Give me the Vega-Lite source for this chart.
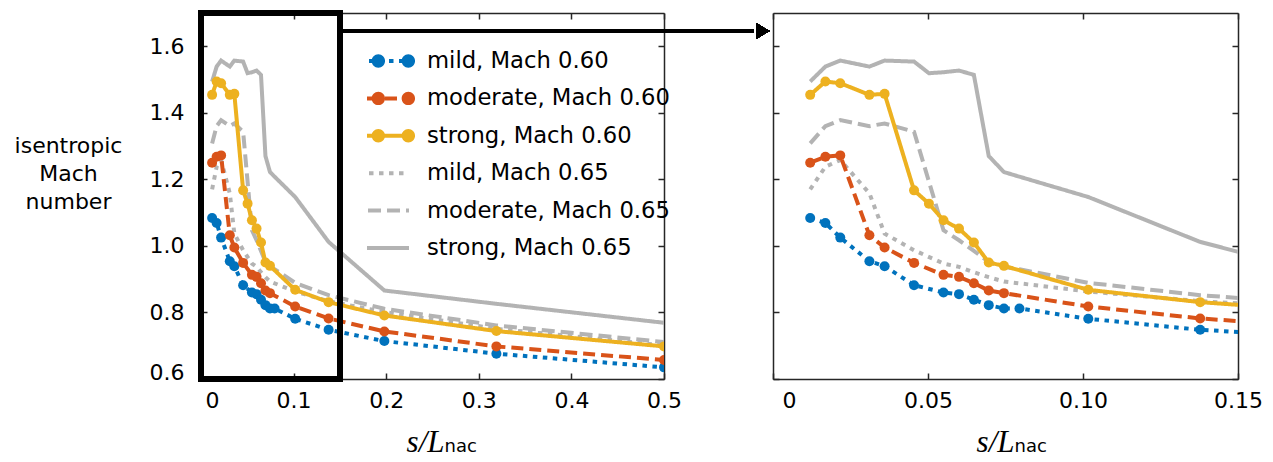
{
  "$schema": "https://vega.github.io/schema/vega-lite/v6.json",
  "padding": {"left": 14, "top": 10, "right": 5, "bottom": 5},
  "bounds": "flush",
  "spacing": 109,
  "config": {
    "font": "DejaVu Sans",
    "view": {"stroke": null},
    "axis": {
      "labelFont": "DejaVu Sans", "labelFontSize": 22, "labelColor": "#000000",
      "domainColor": "#262626", "domainWidth": 1.5,
      "tickColor": "#262626", "tickWidth": 1.5, "tickSize": -6,
      "grid": false, "titleColor": "#000000", "labelFlush": false
    }
  },
  "datasets": {
    "d": [
      {"series": "mild, Mach 0.65", "s": 0.012, "M": 1.170},
      {"series": "mild, Mach 0.65", "s": 0.0169, "M": 1.238},
      {"series": "mild, Mach 0.65", "s": 0.0217, "M": 1.258},
      {"series": "mild, Mach 0.65", "s": 0.0311, "M": 1.158},
      {"series": "mild, Mach 0.65", "s": 0.036, "M": 1.037},
      {"series": "mild, Mach 0.65", "s": 0.0455, "M": 0.987},
      {"series": "mild, Mach 0.65", "s": 0.055, "M": 0.947},
      {"series": "mild, Mach 0.65", "s": 0.06, "M": 0.937},
      {"series": "mild, Mach 0.65", "s": 0.0648, "M": 0.921},
      {"series": "mild, Mach 0.65", "s": 0.0696, "M": 0.906},
      {"series": "mild, Mach 0.65", "s": 0.0745, "M": 0.893},
      {"series": "mild, Mach 0.65", "s": 0.1017, "M": 0.863},
      {"series": "mild, Mach 0.65", "s": 0.1378, "M": 0.834},
      {"series": "mild, Mach 0.65", "s": 0.198, "M": 0.801},
      {"series": "mild, Mach 0.65", "s": 0.319, "M": 0.751},
      {"series": "mild, Mach 0.65", "s": 0.5, "M": 0.701},

      {"series": "moderate, Mach 0.65", "s": 0.012, "M": 1.308},
      {"series": "moderate, Mach 0.65", "s": 0.0169, "M": 1.360},
      {"series": "moderate, Mach 0.65", "s": 0.0217, "M": 1.378},
      {"series": "moderate, Mach 0.65", "s": 0.0311, "M": 1.360},
      {"series": "moderate, Mach 0.65", "s": 0.036, "M": 1.368},
      {"series": "moderate, Mach 0.65", "s": 0.0455, "M": 1.343},
      {"series": "moderate, Mach 0.65", "s": 0.055, "M": 1.047},
      {"series": "moderate, Mach 0.65", "s": 0.06, "M": 1.017},
      {"series": "moderate, Mach 0.65", "s": 0.0648, "M": 0.985},
      {"series": "moderate, Mach 0.65", "s": 0.0696, "M": 0.952},
      {"series": "moderate, Mach 0.65", "s": 0.0745, "M": 0.937},
      {"series": "moderate, Mach 0.65", "s": 0.0795, "M": 0.930},
      {"series": "moderate, Mach 0.65", "s": 0.1017, "M": 0.889},
      {"series": "moderate, Mach 0.65", "s": 0.1378, "M": 0.852},
      {"series": "moderate, Mach 0.65", "s": 0.198, "M": 0.811},
      {"series": "moderate, Mach 0.65", "s": 0.319, "M": 0.761},
      {"series": "moderate, Mach 0.65", "s": 0.5, "M": 0.711},

      {"series": "strong, Mach 0.65", "s": 0.012, "M": 1.494},
      {"series": "strong, Mach 0.65", "s": 0.0169, "M": 1.539},
      {"series": "strong, Mach 0.65", "s": 0.0217, "M": 1.557},
      {"series": "strong, Mach 0.65", "s": 0.0311, "M": 1.539},
      {"series": "strong, Mach 0.65", "s": 0.036, "M": 1.557},
      {"series": "strong, Mach 0.65", "s": 0.0455, "M": 1.554},
      {"series": "strong, Mach 0.65", "s": 0.0503, "M": 1.519},
      {"series": "strong, Mach 0.65", "s": 0.055, "M": 1.522},
      {"series": "strong, Mach 0.65", "s": 0.06, "M": 1.527},
      {"series": "strong, Mach 0.65", "s": 0.0648, "M": 1.514},
      {"series": "strong, Mach 0.65", "s": 0.0696, "M": 1.270},
      {"series": "strong, Mach 0.65", "s": 0.0745, "M": 1.222},
      {"series": "strong, Mach 0.65", "s": 0.0795, "M": 1.208},
      {"series": "strong, Mach 0.65", "s": 0.1017, "M": 1.147},
      {"series": "strong, Mach 0.65", "s": 0.1378, "M": 1.012},
      {"series": "strong, Mach 0.65", "s": 0.198, "M": 0.866},
      {"series": "strong, Mach 0.65", "s": 0.319, "M": 0.826},
      {"series": "strong, Mach 0.65", "s": 0.5, "M": 0.769},

      {"series": "mild, Mach 0.60", "s": 0.012, "M": 1.084},
      {"series": "mild, Mach 0.60", "s": 0.0169, "M": 1.069},
      {"series": "mild, Mach 0.60", "s": 0.0217, "M": 1.025},
      {"series": "mild, Mach 0.60", "s": 0.0311, "M": 0.954},
      {"series": "mild, Mach 0.60", "s": 0.036, "M": 0.939},
      {"series": "mild, Mach 0.60", "s": 0.0455, "M": 0.882},
      {"series": "mild, Mach 0.60", "s": 0.055, "M": 0.860},
      {"series": "mild, Mach 0.60", "s": 0.06, "M": 0.855},
      {"series": "mild, Mach 0.60", "s": 0.0648, "M": 0.838},
      {"series": "mild, Mach 0.60", "s": 0.0696, "M": 0.822},
      {"series": "mild, Mach 0.60", "s": 0.0745, "M": 0.812},
      {"series": "mild, Mach 0.60", "s": 0.0795, "M": 0.812},
      {"series": "mild, Mach 0.60", "s": 0.1017, "M": 0.781},
      {"series": "mild, Mach 0.60", "s": 0.1378, "M": 0.748},
      {"series": "mild, Mach 0.60", "s": 0.198, "M": 0.714},
      {"series": "mild, Mach 0.60", "s": 0.319, "M": 0.676},
      {"series": "mild, Mach 0.60", "s": 0.5, "M": 0.635},

      {"series": "moderate, Mach 0.60", "s": 0.012, "M": 1.250},
      {"series": "moderate, Mach 0.60", "s": 0.0169, "M": 1.268},
      {"series": "moderate, Mach 0.60", "s": 0.0217, "M": 1.272},
      {"series": "moderate, Mach 0.60", "s": 0.0311, "M": 1.032},
      {"series": "moderate, Mach 0.60", "s": 0.036, "M": 0.995},
      {"series": "moderate, Mach 0.60", "s": 0.0455, "M": 0.949},
      {"series": "moderate, Mach 0.60", "s": 0.055, "M": 0.913},
      {"series": "moderate, Mach 0.60", "s": 0.06, "M": 0.907},
      {"series": "moderate, Mach 0.60", "s": 0.0648, "M": 0.888},
      {"series": "moderate, Mach 0.60", "s": 0.0696, "M": 0.866},
      {"series": "moderate, Mach 0.60", "s": 0.0745, "M": 0.858},
      {"series": "moderate, Mach 0.60", "s": 0.1017, "M": 0.818},
      {"series": "moderate, Mach 0.60", "s": 0.1378, "M": 0.782},
      {"series": "moderate, Mach 0.60", "s": 0.198, "M": 0.743},
      {"series": "moderate, Mach 0.60", "s": 0.319, "M": 0.698},
      {"series": "moderate, Mach 0.60", "s": 0.5, "M": 0.657},

      {"series": "strong, Mach 0.60", "s": 0.012, "M": 1.454},
      {"series": "strong, Mach 0.60", "s": 0.0169, "M": 1.494},
      {"series": "strong, Mach 0.60", "s": 0.0217, "M": 1.489},
      {"series": "strong, Mach 0.60", "s": 0.0311, "M": 1.454},
      {"series": "strong, Mach 0.60", "s": 0.036, "M": 1.457},
      {"series": "strong, Mach 0.60", "s": 0.0455, "M": 1.167},
      {"series": "strong, Mach 0.60", "s": 0.0503, "M": 1.127},
      {"series": "strong, Mach 0.60", "s": 0.055, "M": 1.077},
      {"series": "strong, Mach 0.60", "s": 0.06, "M": 1.052},
      {"series": "strong, Mach 0.60", "s": 0.0648, "M": 1.010},
      {"series": "strong, Mach 0.60", "s": 0.0696, "M": 0.950},
      {"series": "strong, Mach 0.60", "s": 0.0745, "M": 0.940},
      {"series": "strong, Mach 0.60", "s": 0.1017, "M": 0.868},
      {"series": "strong, Mach 0.60", "s": 0.1378, "M": 0.831},
      {"series": "strong, Mach 0.60", "s": 0.198, "M": 0.791},
      {"series": "strong, Mach 0.60", "s": 0.319, "M": 0.744},
      {"series": "strong, Mach 0.60", "s": 0.5, "M": 0.698}
    ]
  },
  "hconcat": [
    {
      "width": 463,
      "height": 366,
      "data": {"name": "d"},
      "layer": [
        {
          "mark": {"type": "line", "strokeWidth": 4, "clip": true},
          "encoding": {
            "x": {"field": "s", "type": "quantitative",
              "scale": {"domain": [0, 0.5], "nice": false, "zero": false},
              "axis": {"orient": "bottom", "values": [0, 0.1, 0.2, 0.3, 0.4, 0.5],
                "labelExpr": "datum.value == 0 ? '0' : format(datum.value, '.1f')",
                "labelOffset": {"condition": {"test": "datum.value == 0", "value": 11}, "value": 0},
                "labelPadding": 17,
                "title": "s/L", "titleFont": "Liberation Serif", "titleFontStyle": "italic", "titleFontWeight": "normal",
                "titleFontSize": 31, "titleAlign": "right", "titleBaseline": "alphabetic", "titleX": 243, "titleY": 72}},
            "y": {"field": "M", "type": "quantitative",
              "scale": {"domain": [0.6, 1.7], "nice": false, "zero": false},
              "axis": {"orient": "left", "values": [0.6, 0.8, 1.0, 1.2, 1.4, 1.6], "format": ".1f",
                "labelOffset": {"condition": {"test": "datum.value == 0.6", "value": -7}, "value": 0},
                "labelPadding": 23,
                "title": ["isentropic", "Mach", "number"], "titleAngle": 0, "titleAlign": "center",
                "titleBaseline": "alphabetic", "titleX": -133, "titleY": 139, "titleFontSize": 22,
                "titleFontWeight": "normal", "titleFont": "DejaVu Sans", "titleLineHeight": 28}},
            "color": {"field": "series", "type": "nominal",
              "scale": {"domain": ["mild, Mach 0.60", "moderate, Mach 0.60", "strong, Mach 0.60", "mild, Mach 0.65", "moderate, Mach 0.65", "strong, Mach 0.65"],
                "range": ["#0072BD", "#D95319", "#EDB120", "#B3B3B3", "#B3B3B3", "#B3B3B3"]},
              "legend": {"title": null, "orient": "none", "legendX": 166, "legendY": 34.5, "padding": 0,
                "symbolType": "M-3,0H3", "symbolSize": 400, "symbolStrokeWidth": 4,
                "labelFont": "DejaVu Sans", "labelFontSize": 22.7, "labelColor": "#000000", "labelOffset": 36, "labelLimit": 400,
                "rowPadding": 10.4, "clipHeight": 27, "gridAlign": "all"}},
            "strokeDash": {"field": "series", "type": "nominal",
              "scale": {"domain": ["mild, Mach 0.60", "moderate, Mach 0.60", "strong, Mach 0.60", "mild, Mach 0.65", "moderate, Mach 0.65", "strong, Mach 0.65"],
                "range": [[4.5, 5.5], [12, 6], [1, 0], [4.5, 5.5], [13, 6], [1, 0]]}}
          }
        },
        {
          "transform": [{"filter": "indexof(datum.series, '0.60') >= 0"}],
          "mark": {"type": "point", "filled": true, "size": 100, "opacity": 1, "clip": true},
          "encoding": {
            "x": {"field": "s", "type": "quantitative", "axis": null},
            "y": {"field": "M", "type": "quantitative", "axis": null},
            "fill": {"field": "series", "type": "nominal",
              "scale": {"domain": ["mild, Mach 0.60", "moderate, Mach 0.60", "strong, Mach 0.60"],
                "range": ["#0072BD", "#D95319", "#EDB120"]},
              "legend": {"title": null, "orient": "none", "legendX": 166, "legendY": 34.5, "padding": 0,
                "symbolType": "M-3.67,0a0.67,0.67 0 1,0 1.34,0a0.67,0.67 0 1,0 -1.34,0M-0.67,0a0.67,0.67 0 1,0 1.34,0a0.67,0.67 0 1,0 -1.34,0M2.33,0a0.67,0.67 0 1,0 1.34,0a0.67,0.67 0 1,0 -1.34,0",
                "symbolSize": 400, "symbolStrokeWidth": 0, "symbolOpacity": 1,
                "labelFont": "DejaVu Sans", "labelFontSize": 22.7, "labelColor": "transparent", "labelOffset": 36, "labelLimit": 400,
                "rowPadding": 10.4, "clipHeight": 27, "gridAlign": "all"}}
          }
        },
        {
          "mark": {"type": "rect", "fillOpacity": 0, "stroke": "#000000", "strokeWidth": 5},
          "encoding": {
            "x": {"datum": 0, "type": "quantitative",
              "axis": {"orient": "top", "values": [0, 0.1, 0.2, 0.3, 0.4, 0.5], "labels": false,
                "title": "nac", "titleFont": "DejaVu Sans", "titleFontSize": 18, "titleFontWeight": "normal",
                "titleAlign": "left", "titleBaseline": "alphabetic", "titleX": 243, "titleY": 438}},
            "x2": {"datum": 0.15},
            "y": {"datum": 0.6, "type": "quantitative",
              "axis": {"orient": "right", "values": [0.6, 0.8, 1.0, 1.2, 1.4, 1.6], "labels": false, "title": null}},
            "y2": {"datum": 1.7}
          }
        },
        {
          "mark": {"type": "rule", "strokeWidth": 3, "color": "#000000"},
          "encoding": {
            "x": {"datum": 0.15, "type": "quantitative", "axis": null},
            "x2": {"datum": 0.597},
            "y": {"datum": 1.646, "type": "quantitative", "axis": null}
          }
        },
        {
          "mark": {"type": "point", "shape": "triangle-right", "filled": true, "size": 220, "color": "#000000", "opacity": 1},
          "encoding": {
            "x": {"datum": 0.607, "type": "quantitative", "axis": null},
            "y": {"datum": 1.646, "type": "quantitative", "axis": null}
          }
        }
      ],
      "resolve": {"axis": {"x": "independent", "y": "independent"}}
    },
    {
      "width": 465,
      "height": 366,
      "data": {"name": "d"},
      "layer": [
        {
          "mark": {"type": "line", "strokeWidth": 4, "clip": true},
          "encoding": {
            "x": {"field": "s", "type": "quantitative",
              "scale": {"domain": [0, 0.15], "nice": false, "zero": false},
              "axis": {"orient": "bottom", "values": [0, 0.05, 0.1, 0.15],
                "labelExpr": "datum.value == 0 ? '0' : format(datum.value, '.2f')",
                "labelOffset": {"condition": {"test": "datum.value == 0", "value": 16}, "value": 0},
                "labelPadding": 17,
                "title": "s/L", "titleFont": "Liberation Serif", "titleFontStyle": "italic", "titleFontWeight": "normal",
                "titleFontSize": 31, "titleAlign": "right", "titleBaseline": "alphabetic", "titleX": 241, "titleY": 72}},
            "y": {"field": "M", "type": "quantitative",
              "scale": {"domain": [0.6, 1.7], "nice": false, "zero": false},
              "axis": {"orient": "left", "values": [0.6, 0.8, 1.0, 1.2, 1.4, 1.6], "labels": false, "title": null}},
            "color": {"field": "series", "type": "nominal"},
            "strokeDash": {"field": "series", "type": "nominal"}
          }
        },
        {
          "transform": [{"filter": "indexof(datum.series, '0.60') >= 0"}],
          "mark": {"type": "point", "filled": true, "size": 100, "opacity": 1, "clip": true},
          "encoding": {
            "x": {"field": "s", "type": "quantitative", "axis": null},
            "y": {"field": "M", "type": "quantitative", "axis": null},
            "fill": {"field": "series", "type": "nominal"}
          }
        },
        {
          "mark": {"type": "rule", "opacity": 0},
          "encoding": {
            "x": {"datum": 0, "type": "quantitative",
              "axis": {"orient": "top", "values": [0, 0.05, 0.1, 0.15], "labels": false,
                "title": "nac", "titleFont": "DejaVu Sans", "titleFontSize": 18, "titleFontWeight": "normal",
                "titleAlign": "left", "titleBaseline": "alphabetic", "titleX": 241, "titleY": 438}},
            "y": {"datum": 0.6, "type": "quantitative",
              "axis": {"orient": "right", "values": [0.6, 0.8, 1.0, 1.2, 1.4, 1.6], "labels": false, "title": null}}
          }
        }
      ],
      "resolve": {"axis": {"x": "independent", "y": "independent"}}
    }
  ]
}
